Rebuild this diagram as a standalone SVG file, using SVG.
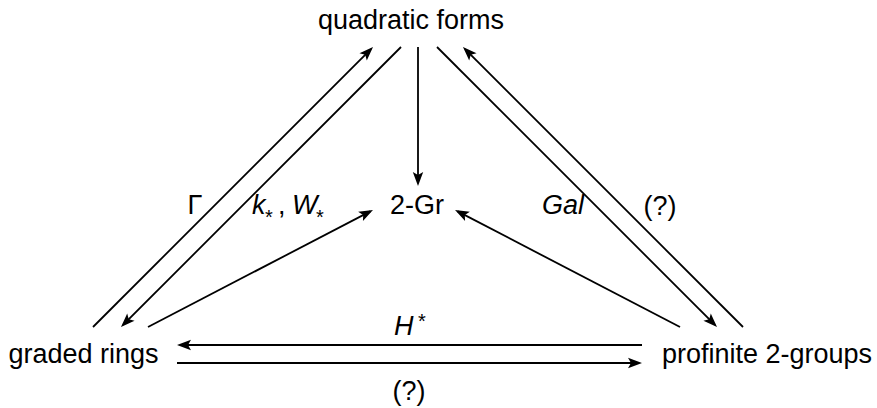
<svg xmlns="http://www.w3.org/2000/svg" width="877" height="408" viewBox="0 0 877 408">
  <style>
    .lbl { font-family: "Liberation Sans", Arial, sans-serif; font-size: 27px; fill: #000; }
    .it { font-style: italic; }
    .sub { font-size: 20px; font-style: normal; }
    .edge { fill: none; stroke: #000; stroke-width: 1.8; marker-end: url(#ah); }
  </style>
  <defs>
    <marker id="ah" markerUnits="userSpaceOnUse" markerWidth="18" markerHeight="14" viewBox="-16 -7 18 14" refX="-3" refY="0" orient="auto">
      <path d="M0,0 L-14,-5.2 L-11,0 L-14,5.2 z" fill="#000"/>
    </marker>
  </defs>
  <rect width="877" height="408" fill="#fff"/>

  <g id="connectors">
    <path class="edge" d="M93,327 L370.9,49.1"/>
    <path class="edge" d="M401,47 L123.1,324.9"/>
    <path class="edge" d="M418,47 L418,183"/>
    <path class="edge" d="M148,327 L370.3,211.4"/>
    <path class="edge" d="M437,47 L714.9,324.9"/>
    <path class="edge" d="M743,327 L465.1,49.1"/>
    <path class="edge" d="M680,327 L457.7,211.4"/>
    <path class="edge" d="M642,345 L180,345"/>
    <path class="edge" d="M177,363 L639,363"/>
  </g>

  <g id="node-quadratic-forms">
    <text class="lbl" x="411" y="29" text-anchor="middle">quadratic forms</text>
  </g>
  <g id="node-2-Gr">
    <text class="lbl" x="417" y="214" text-anchor="middle">2-Gr</text>
  </g>
  <g id="node-graded-rings">
    <text class="lbl" x="83.5" y="363" text-anchor="middle">graded rings</text>
  </g>
  <g id="node-profinite-2-groups">
    <text class="lbl" x="767" y="363" text-anchor="middle">profinite 2-groups</text>
  </g>

  <g id="edge-labels">
    <text class="lbl" x="195" y="214" text-anchor="middle">Γ</text>
    <text class="lbl"><tspan class="it" x="252" y="214">k</tspan><tspan class="sub" x="265" y="224">*</tspan><tspan x="278" y="214">,</tspan><tspan class="it" x="292" y="214">W</tspan><tspan class="sub" x="316" y="224">*</tspan></text>
    <text class="lbl it" x="542" y="214">Gal</text>
    <text class="lbl" x="660" y="215" text-anchor="middle">(?)</text>
    <text class="lbl"><tspan class="it" x="394" y="335">H</tspan><tspan class="sub" x="418" y="328">*</tspan></text>
    <text class="lbl" x="409" y="400" text-anchor="middle">(?)</text>
  </g>
</svg>
